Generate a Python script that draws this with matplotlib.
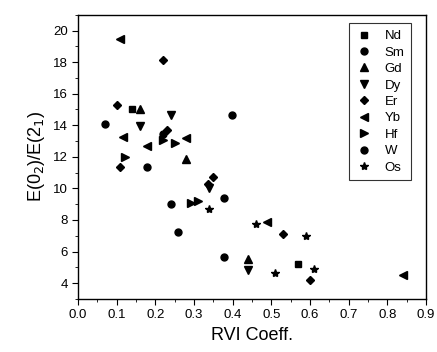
import matplotlib
matplotlib.use('Agg')
import matplotlib.pyplot as plt
from matplotlib.ticker import MultipleLocator

plt.rcParams['font.family'] = ['Liberation Sans', 'DejaVu Sans']

# values
nd_x = [0.139, 0.568]
nd_y = [15.03, 5.21]
sm_x = [0.070, 0.219, 0.179, 0.240, 0.259]
sm_y = [14.08, 13.42, 11.37, 9.00, 7.22]
gd_x = [0.160, 0.279, 0.440]
gd_y = [15.05, 11.83, 5.50]
dy_x = [0.160, 0.240, 0.339, 0.440]
dy_y = [13.97, 14.65, 10.00, 4.81]
er_x = [0.100, 0.219, 0.231, 0.109, 0.350, 0.337, 0.529, 0.600]
er_y = [15.26, 18.14, 13.70, 11.33, 10.70, 10.25, 7.09, 4.17]
yb_x = [0.109, 0.117, 0.179, 0.278, 0.488, 0.840]
yb_y = [19.47, 13.27, 12.70, 13.20, 7.87, 4.49]
hf_x = [0.122, 0.221, 0.251, 0.291, 0.311]
hf_y = [11.96, 13.06, 12.85, 9.08, 9.21]
w_x = [0.399, 0.378, 0.378]
w_y = [14.65, 9.38, 5.63]
os_x = [0.340, 0.460, 0.590, 0.509, 0.610]
os_y = [8.68, 7.75, 6.98, 4.63, 4.87]

series = [
    ('Nd', nd_x, nd_y, 's', 4),
    ('Sm', sm_x, sm_y, 'o', 5),
    ('Gd', gd_x, gd_y, '^', 5.5),
    ('Dy', dy_x, dy_y, 'v', 5.5),
    ('Er', er_x, er_y, 'D', 4.5),
    ('Yb', yb_x, yb_y, '<', 5.5),
    ('Hf', hf_x, hf_y, '>', 5.5),
    ('W', w_x, w_y, 'o', 5),
    ('Os', os_x, os_y, '*', 6),
]

fig = plt.figure(figsize=(4.37, 3.52), dpi=100)
ax = fig.add_axes([0.1785, 0.151, 0.7965, 0.807])

for name, xs, ys, mk, ms in series:
    ax.plot(xs, ys, linestyle='none', marker=mk, markersize=ms,
            color='black', label=name)

ax.set_xlim(0, 0.9)
ax.set_ylim(3, 21)
ax.xaxis.set_major_locator(MultipleLocator(0.1))
ax.xaxis.set_minor_locator(MultipleLocator(0.05))
ax.yaxis.set_major_locator(MultipleLocator(2))
ax.yaxis.set_minor_locator(MultipleLocator(1))
ax.tick_params(which='both', direction='out', top=False, right=False,
               labelsize=9.5)
ax.tick_params(which='major', length=4)
ax.tick_params(which='minor', length=2.5)
for s in ax.spines.values():
    s.set_linewidth(1.0)

ax.set_xlabel('RVI Coeff.', fontsize=13)
ax.set_ylabel('E(0$_2$)/E(2$_1$)', fontsize=13)

leg = ax.legend(loc='upper right', fontsize=9.5, frameon=True, fancybox=False,
                edgecolor='black', handlelength=1.2, handletextpad=1.0,
                labelspacing=0.32, borderpad=0.5, borderaxespad=0,
                bbox_to_anchor=(0.957, 0.970))
leg.get_frame().set_linewidth(0.8)

fig.savefig('out.png', dpi=100)
